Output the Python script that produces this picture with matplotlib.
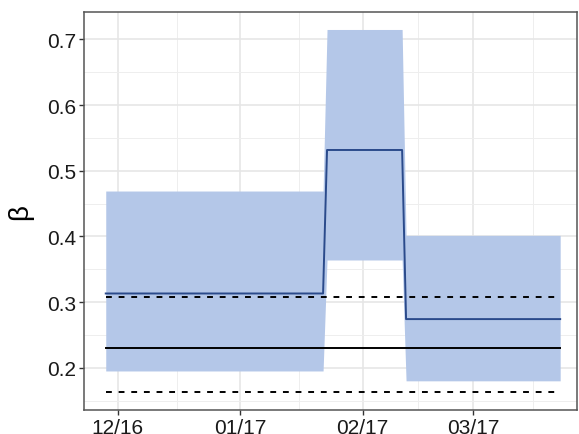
import numpy as np
import pandas as pd
import matplotlib
matplotlib.use('Agg')
import matplotlib.pyplot as plt
import matplotlib.dates as mdates

plt.rcParams['font.family'] = ['Liberation Sans', 'DejaVu Sans']

# step estimate with confidence band
dates = pd.to_datetime(['2016-11-28', '2017-01-22', '2017-01-23',
                        '2017-02-11', '2017-02-12', '2017-03-23'])
beta_est = [0.313, 0.313, 0.5315, 0.5315, 0.274, 0.274]
beta_low = [0.195, 0.195, 0.364, 0.364, 0.180, 0.180]
beta_high = [0.469, 0.469, 0.715, 0.715, 0.4015, 0.4015]

# reference level and its interval
ref_mean = 0.2305
ref_low = 0.163
ref_high = 0.308

tick_dates = pd.to_datetime(['2016-12-01', '2017-01-01', '2017-02-01', '2017-03-01'])
tick_labels = ['12/16', '01/17', '02/17', '03/17']
minor_dates = pd.to_datetime(['2016-12-16', '2017-01-16', '2017-02-15', '2017-03-16'])

fig = plt.figure(figsize=(5.79, 4.35), dpi=100)
ax = fig.add_axes([0.1451, 0.0552, 0.8514, 0.9149])

ax.fill_between(dates, beta_low, beta_high, color='#b4c7e8', lw=0, zorder=2)
ax.plot(dates, beta_est, color='#2a4a8b', lw=1.4, zorder=4)

x0, x1 = dates[0], dates[-1]
ax.plot([x0, x1], [ref_mean, ref_mean], color='black', lw=1.4, zorder=3)
for v in (ref_low, ref_high):
    ax.plot([x0, x1], [v, v], color='black', lw=1.4, ls=(0, (3, 3.5)), zorder=3)

ax.set_xlim(pd.Timestamp('2016-11-22 12:00'), pd.Timestamp('2017-03-27 06:00'))
ax.set_ylim(0.1356, 0.7416)

ax.set_xticks(tick_dates)
ax.set_xticklabels(tick_labels)
ax.set_xticks(minor_dates, minor=True)
ax.set_yticks([0.2, 0.3, 0.4, 0.5, 0.6, 0.7])
ax.set_yticks([0.15, 0.25, 0.35, 0.45, 0.55, 0.65], minor=True)

ax.grid(True, which='major', color='#e6e6e6', lw=1.2, zorder=0)
ax.grid(True, which='minor', color='#eeeeee', lw=0.7, zorder=0)
ax.set_axisbelow(True)

ax.tick_params(which='major', length=3.5, width=1, color='#333333',
               labelsize=15, labelcolor='#1a1a1a', pad=2)
ax.tick_params(which='minor', length=0)
for s in ax.spines.values():
    s.set_color('#555555')
    s.set_linewidth(1.1)

ax.set_ylabel('β', fontsize=20, labelpad=10)

fig.savefig('out.png', dpi=100)
